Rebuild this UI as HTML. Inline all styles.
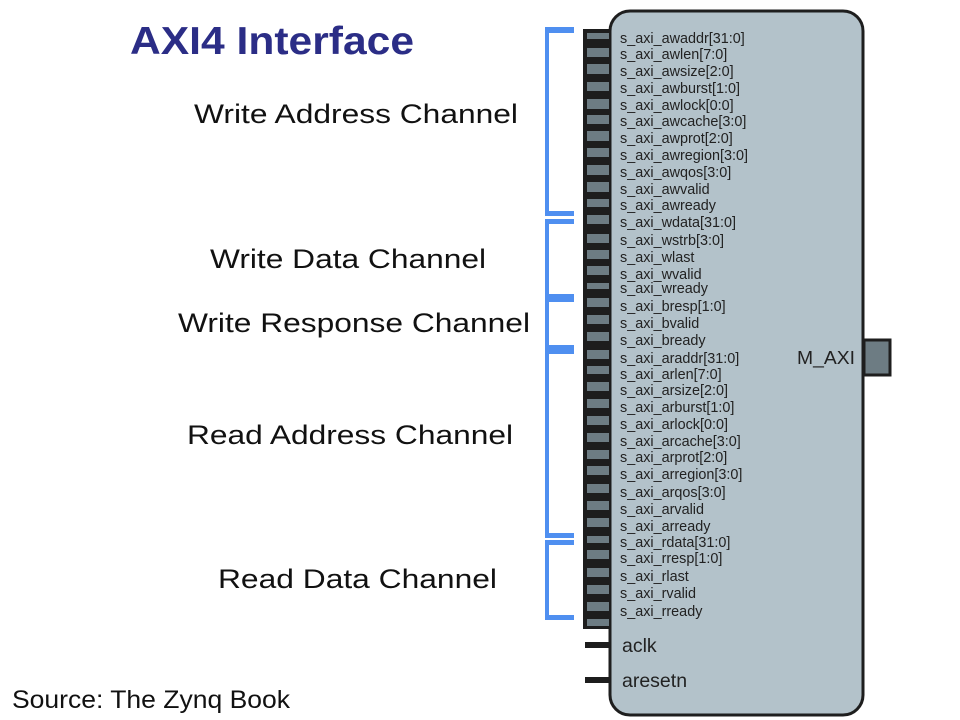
<!DOCTYPE html>
<html><head><meta charset="utf-8">
<style>
html,body{margin:0;padding:0;background:#fff;}
svg{display:block;}
text{font-family:"Liberation Sans",Arial,sans-serif;}
</style></head>
<body>
<svg width="960" height="720" viewBox="0 0 960 720" xmlns="http://www.w3.org/2000/svg">
<rect width="960" height="720" fill="#fff"/>
<text x="130" y="54" font-size="39" font-weight="bold" fill="#2b2d86" textLength="284" lengthAdjust="spacingAndGlyphs">AXI4 Interface</text>
<g font-size="27" fill="#111">
<text x="194" y="123" textLength="324" lengthAdjust="spacingAndGlyphs">Write Address Channel</text>
<text x="210" y="268" textLength="276" lengthAdjust="spacingAndGlyphs">Write Data Channel</text>
<text x="178" y="332" textLength="352" lengthAdjust="spacingAndGlyphs">Write Response Channel</text>
<text x="187" y="444" textLength="326" lengthAdjust="spacingAndGlyphs">Read Address Channel</text>
<text x="218" y="588" textLength="279" lengthAdjust="spacingAndGlyphs">Read Data Channel</text>
<text x="12" y="708" font-size="25" textLength="278" lengthAdjust="spacingAndGlyphs">Source: The Zynq Book</text>
</g>
<g fill="#4f8ff0">
<rect x="545" y="27" width="4" height="189"/>
<rect x="545" y="27" width="29" height="6"/>
<rect x="545" y="211" width="29" height="5"/>
<rect x="545" y="219" width="4" height="81"/>
<rect x="545" y="219" width="29" height="5"/>
<rect x="545" y="294" width="29" height="8"/>
<rect x="545" y="294" width="4" height="60"/>
<rect x="545" y="345" width="29" height="9"/>
<rect x="545" y="345" width="4" height="192"/>
<rect x="545" y="533" width="29" height="5"/>
<rect x="545" y="540" width="4" height="79"/>
<rect x="545" y="540" width="29" height="5"/>
<rect x="545" y="615" width="29" height="5"/>
</g>
<rect x="610" y="11" width="253" height="704" rx="20" ry="20" fill="#b3c2ca" stroke="#1e1e1e" stroke-width="3"/>
<rect x="583" y="29" width="28" height="600" fill="#1d1d1d"/>
<g fill="#6d7c83">
<rect x="587" y="33" width="22" height="6"/>
<rect x="587" y="48" width="22" height="9"/>
<rect x="587" y="64" width="22" height="10"/>
<rect x="587" y="82" width="22" height="9"/>
<rect x="587" y="99" width="22" height="10"/>
<rect x="587" y="115" width="22" height="9"/>
<rect x="587" y="131" width="22" height="10"/>
<rect x="587" y="148" width="22" height="9"/>
<rect x="587" y="165" width="22" height="10"/>
<rect x="587" y="182" width="22" height="10"/>
<rect x="587" y="199" width="22" height="8"/>
<rect x="587" y="215" width="22" height="9"/>
<rect x="587" y="234" width="22" height="9"/>
<rect x="587" y="250" width="22" height="9"/>
<rect x="587" y="266" width="22" height="9"/>
<rect x="587" y="283" width="22" height="6"/>
<rect x="587" y="298" width="22" height="9"/>
<rect x="587" y="315" width="22" height="9"/>
<rect x="587" y="332" width="22" height="9"/>
<rect x="587" y="350" width="22" height="9"/>
<rect x="587" y="366" width="22" height="8"/>
<rect x="587" y="382" width="22" height="9"/>
<rect x="587" y="399" width="22" height="9"/>
<rect x="587" y="416" width="22" height="9"/>
<rect x="587" y="433" width="22" height="9"/>
<rect x="587" y="450" width="22" height="9"/>
<rect x="587" y="466" width="22" height="9"/>
<rect x="587" y="484" width="22" height="9"/>
<rect x="587" y="501" width="22" height="9"/>
<rect x="587" y="518" width="22" height="9"/>
<rect x="587" y="536" width="22" height="7"/>
<rect x="587" y="550" width="22" height="9"/>
<rect x="587" y="568" width="22" height="9"/>
<rect x="587" y="585" width="22" height="9"/>
<rect x="587" y="602" width="22" height="9"/>
<rect x="587" y="619" width="22" height="7"/>
</g>
<rect x="585" y="642" width="26" height="6" fill="#1d1d1d"/>
<rect x="585" y="677" width="26" height="6" fill="#1d1d1d"/>
<rect x="864" y="340" width="26" height="35" fill="#6d7c83" stroke="#1e1e1e" stroke-width="3"/>
<text x="797" y="364" font-size="18.5" fill="#222" textLength="58" lengthAdjust="spacingAndGlyphs">M_AXI</text>
<g font-size="14.4" fill="#222">
<text x="620" y="43">s_axi_awaddr[31:0]</text>
<text x="620" y="59">s_axi_awlen[7:0]</text>
<text x="620" y="76">s_axi_awsize[2:0]</text>
<text x="620" y="93">s_axi_awburst[1:0]</text>
<text x="620" y="110">s_axi_awlock[0:0]</text>
<text x="620" y="126">s_axi_awcache[3:0]</text>
<text x="620" y="143">s_axi_awprot[2:0]</text>
<text x="620" y="160">s_axi_awregion[3:0]</text>
<text x="620" y="177">s_axi_awqos[3:0]</text>
<text x="620" y="194">s_axi_awvalid</text>
<text x="620" y="210">s_axi_awready</text>
<text x="620" y="227">s_axi_wdata[31:0]</text>
<text x="620" y="245">s_axi_wstrb[3:0]</text>
<text x="620" y="262">s_axi_wlast</text>
<text x="620" y="279">s_axi_wvalid</text>
<text x="620" y="293">s_axi_wready</text>
<text x="620" y="311">s_axi_bresp[1:0]</text>
<text x="620" y="328">s_axi_bvalid</text>
<text x="620" y="345">s_axi_bready</text>
<text x="620" y="363">s_axi_araddr[31:0]</text>
<text x="620" y="379">s_axi_arlen[7:0]</text>
<text x="620" y="395">s_axi_arsize[2:0]</text>
<text x="620" y="412">s_axi_arburst[1:0]</text>
<text x="620" y="429">s_axi_arlock[0:0]</text>
<text x="620" y="446">s_axi_arcache[3:0]</text>
<text x="620" y="462">s_axi_arprot[2:0]</text>
<text x="620" y="479">s_axi_arregion[3:0]</text>
<text x="620" y="497">s_axi_arqos[3:0]</text>
<text x="620" y="514">s_axi_arvalid</text>
<text x="620" y="531">s_axi_arready</text>
<text x="620" y="547">s_axi_rdata[31:0]</text>
<text x="620" y="563">s_axi_rresp[1:0]</text>
<text x="620" y="581">s_axi_rlast</text>
<text x="620" y="598">s_axi_rvalid</text>
<text x="620" y="616">s_axi_rready</text>
</g>
<text x="622" y="652" font-size="19.5" fill="#222">aclk</text>
<text x="622" y="687" font-size="19.5" fill="#222">aresetn</text>
</svg>
</body></html>
